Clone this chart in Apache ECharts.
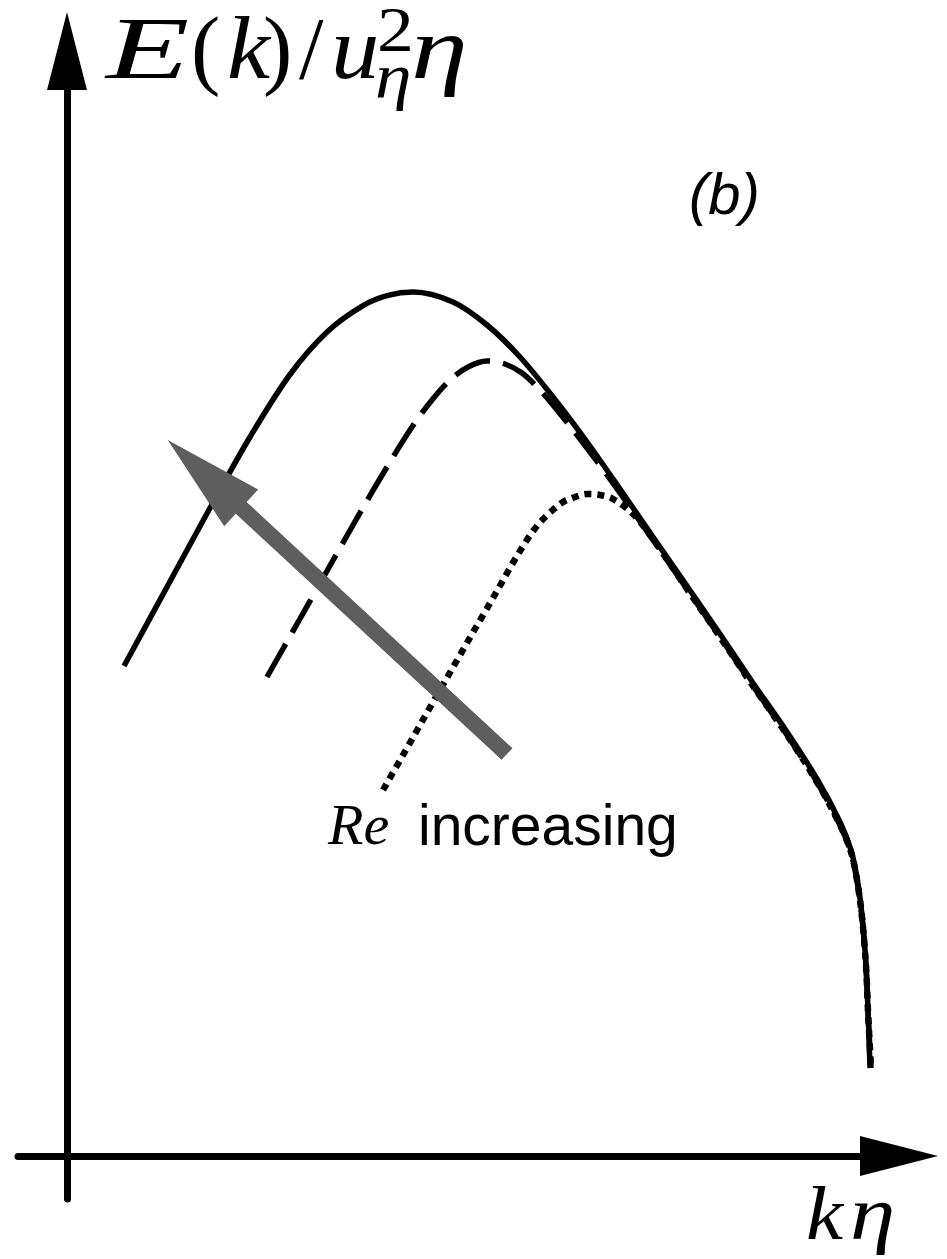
<!DOCTYPE html>
<html>
<head>
<meta charset="utf-8">
<script src="https://cdn.jsdelivr.net/npm/echarts/dist/echarts.min.js"></script>
<style>
html,body{margin:0;padding:0;background:#fff;}
#chart{width:947px;height:1259px;}
</style>
</head>
<body>
<div id="chart"></div>
<script>
// Schematic spectra E(k) vs k*eta (arbitrary units)
const solidCurve = [[7.125,49.0],[12.5,56.9],[17.875,64.8],[22.875,71.9],[27.875,78.15],[32.5,82.4],[37.0,85.04],[40.125,86.06],[43.25,86.4],[48.25,85.4],[52.5,83.1],[56.625,79.9],[60.75,75.9],[65.0,71.4],[69.125,66.7],[73.25,61.9],[77.5,57.0],[81.625,52.2],[85.75,47.3],[90.0,42.4],[93.75,37.7],[96.625,33.4],[98.0,30.6],[98.75,27.8],[99.375,24.1],[99.875,19.1],[100.125,14.6],[100.375,8.8]];
const dashedCurve = [[25.0,47.9],[28.75,53.2],[32.5,58.5],[36.25,63.8],[40.0,68.9],[43.125,72.9],[45.625,75.6],[47.875,77.6],[50.125,78.9],[52.5,79.5],[54.75,79.2],[56.875,78.3],[58.875,76.8],[60.75,75.1],[65.0,70.8],[69.125,66.3],[73.25,61.6],[77.5,56.7],[81.625,51.9],[85.75,47.0],[90.0,42.1],[93.75,37.4],[96.625,33.1],[98.0,30.3],[98.75,27.5],[99.375,23.8],[99.875,18.9],[100.125,14.4],[100.5,8.8]];
const dottedCurve = [[39.5,36.6],[42.25,40.45],[45.125,44.5],[47.875,48.35],[50.75,52.35],[53.5,56.15],[56.25,60.0],[58.75,63.0],[61.625,65.2],[63.5,65.9],[65.0,66.2],[66.625,66.1],[68.25,65.7],[70.75,64.2],[73.25,61.7],[77.5,56.7],[81.625,51.9],[85.75,47.0],[90.0,42.1],[93.75,37.4],[96.625,33.1],[98.0,30.4],[98.75,27.6],[99.375,23.9],[99.875,19.0],[100.125,14.5],[100.5,8.8]];
// gray "Re increasing" arrow: [tailX, tailY, tipX, tipY]
const reArrow = [[55.0, 40.2, 12.6, 71.6]];
const labelRe = 'Re';
const labelIncreasing = 'increasing';
const labelPanel = '(b)';

const chart = echarts.init(document.getElementById('chart'), null, {renderer: 'canvas'});

const axisCommon = {
  type: 'value',
  axisTick: {show: false},
  axisLabel: {show: false},
  splitLine: {show: false},
  axisLine: {
    show: true,
    onZero: true,
    symbol: ['none', 'triangle'],
    symbolSize: [40, 78],
    lineStyle: {color: '#000', width: 7}
  }
};

const serifIt = (s) => 'italic ' + s + 'px "Liberation Serif"';
const serifUp = (s) => s + 'px "Liberation Serif"';
function t(text, x, yMid, font, sx) {
  return {type: 'text', x: x, y: yMid, scaleX: sx || 1,
          style: {text: text, font: font, fill: '#000', textAlign: 'left', textVerticalAlign: 'middle'}};
}

const option = {
  animation: false,
  backgroundColor: '#fff',
  grid: {left: 18, right: 48, top: 51, bottom: 60, containLabel: false},
  xAxis: Object.assign({}, axisCommon, {min: -6.125, max: 104.0}),
  yAxis: Object.assign({}, axisCommon, {min: -4.3, max: 110.5}),
  series: [
    {type: 'line', data: dottedCurve, showSymbol: false, smooth: 0.33, z: 2,
     lineStyle: {color: '#000', width: 6.5, type: [7, 6]}},
    {type: 'line', data: dashedCurve, showSymbol: false, smooth: 0.33, z: 3,
     lineStyle: {color: '#000', width: 5.5, type: [38, 13]}},
    {type: 'line', data: solidCurve, showSymbol: false, smooth: 0.33, z: 4,
     lineStyle: {color: '#000', width: 5.5}},
    {type: 'custom', z: 5, data: reArrow, encode: {x: [0, 2], y: [1, 3]},
     renderItem: function (params, api) {
       const tail = api.coord([api.value(0), api.value(1)]);
       const tip = api.coord([api.value(2), api.value(3)]);
       const dx = tip[0] - tail[0], dy = tip[1] - tail[1];
       const len = Math.hypot(dx, dy);
       const ux = dx / len, uy = dy / len, nx = -uy, ny = ux;
       const headLen = 100, headHalf = 25, shaftHalf = 8;
       const bx = tip[0] - ux * headLen, by = tip[1] - uy * headLen;
       const pts = [
         [tail[0] + nx * shaftHalf, tail[1] + ny * shaftHalf],
         [bx + nx * shaftHalf, by + ny * shaftHalf],
         [bx + nx * headHalf, by + ny * headHalf],
         [tip[0], tip[1]],
         [bx - nx * headHalf, by - ny * headHalf],
         [bx - nx * shaftHalf, by - ny * shaftHalf],
         [tail[0] - nx * shaftHalf, tail[1] - ny * shaftHalf]
       ];
       return {type: 'polygon', shape: {points: pts}, style: {fill: '#5e5e5e'}};
     }}
  ],
  graphic: [
    // y-axis label  E(k)/u_eta^2 eta
    t('E', 106, 55, serifIt(88), 1.55),
    t('(', 191, 55, serifUp(88)),
    t('k', 227, 55, serifIt(88), 1.1),
    t(')', 263, 55, serifUp(88)),
    t('/', 299, 55, serifUp(88)),
    t('u', 331, 55, serifIt(88), 1.1),
    t('2', 377, 34, serifUp(64), 1.15),
    t('η', 375, 80, serifIt(64), 1.15),
    t('η', 411, 55, serifIt(88), 1.3),
    // x-axis label  k eta
    t('k', 806, 1219, serifIt(76), 1.1),
    t('η', 850, 1219, serifIt(76), 1.2),
    // panel label
    t(labelPanel, 689, 198, 'italic 58px "Liberation Sans"'),
    // annotation
    t(labelRe, 328, 829, serifIt(58)),
    t(labelIncreasing, 418, 829, '57px "Liberation Sans"')
  ]
};
chart.setOption(option);
</script>
</body>
</html>
